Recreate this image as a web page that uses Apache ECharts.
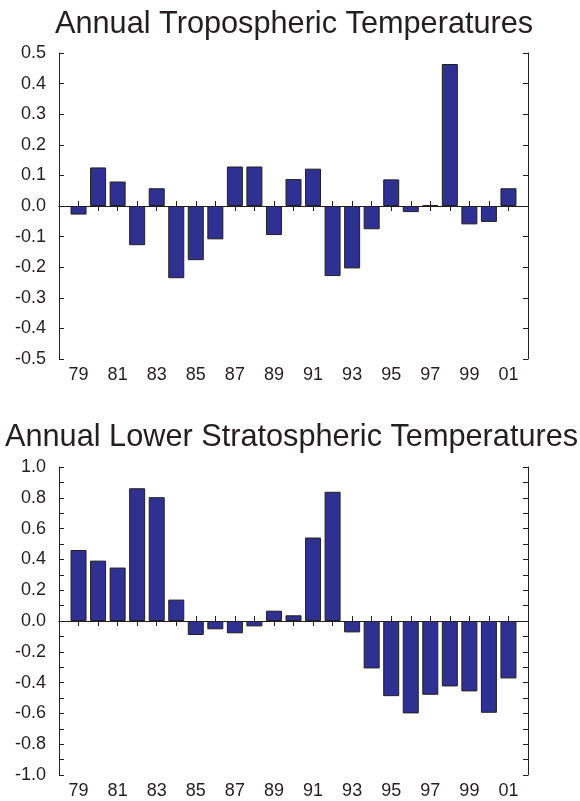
<!DOCTYPE html>
<html>
<head>
<meta charset="utf-8">
<script src="https://cdn.jsdelivr.net/npm/echarts@6/dist/echarts.min.js"></script>
<style>
html,body{margin:0;padding:0;background:#fff;}
#chart{width:580px;height:801px;}
</style>
</head>
<body>
<div id="chart"></div>
<script>
const years = [1979,1980,1981,1982,1983,1984,1985,1986,1987,1988,1989,1990,1991,1992,1993,1994,1995,1996,1997,1998,1999,2000,2001];
const tropo = [-0.028,0.126,0.080,-0.128,0.058,-0.236,-0.177,-0.109,0.129,0.129,-0.095,0.088,0.122,-0.229,-0.204,-0.076,0.087,-0.020,0.003,0.464,-0.060,-0.052,0.058];
const strato = [0.461,0.392,0.347,0.862,0.804,0.139,-0.091,-0.054,-0.080,-0.035,0.067,0.037,0.542,0.839,-0.074,-0.308,-0.488,-0.600,-0.479,-0.425,-0.457,-0.596,-0.373];
const titles = ['Annual Tropospheric Temperatures','Annual Lower Stratospheric Temperatures'];
const yearLabels = ['79','81','83','85','87','89','91','93','95','97','99','01'];

const INK = '#231F20';
const FONT = '"Liberation Sans", Arial, sans-serif';
const chart = echarts.init(document.getElementById('chart'), null, {renderer:'canvas'});

function xFmt(v){
  const s = String(v).slice(2);
  return yearLabels.indexOf(s) >= 0 && v > 1978 && v < 2002 ? s : '';
}
function xAxes(gi){
  const base = {type:'value', gridIndex:gi, min:1978, max:2002, interval:1,
    axisLine:{show:true, lineStyle:{color:INK, width:1}},
    axisTick:{show:true, inside:true, length:5, lineStyle:{color:INK, width:1}},
    splitLine:{show:false}};
  return [
    Object.assign({}, base, {position:'bottom',
      axisLabel:{show:true, formatter:xFmt, margin:7, color:INK, fontSize:18, fontFamily:FONT}}),
    Object.assign({}, base, {position:'top', axisLabel:{show:false}})
  ];
}
function yAxes(gi, min, max, interval, minor){
  const base = {type:'value', gridIndex:gi, min:min, max:max, interval:interval,
    axisLine:{show:true, lineStyle:{color:INK, width:1}},
    axisTick:{show:true, inside:true, length:5, lineStyle:{color:INK, width:1}},
    minorTick:{show:minor, splitNumber:2, length:5, lineStyle:{color:INK, width:1}},
    splitLine:{show:false}};
  return [
    Object.assign({}, base, {position:'left',
      axisLabel:{show:true, formatter:v=>v.toFixed(1), margin:13, color:INK, fontSize:18, fontFamily:FONT}}),
    Object.assign({}, base, {position:'right', axisLabel:{show:false}})
  ];
}
function barSeries(gi, vals){
  return {type:'bar', xAxisIndex:gi*2, yAxisIndex:gi*2, barWidth:16,
    data: years.map((y,i)=>[y, vals[i]]),
    itemStyle:{color:'#2E3192', borderColor:INK, borderWidth:1},
    silent:true,
    markLine:{silent:true, symbol:'none', label:{show:false},
      lineStyle:{color:INK, width:1, type:'solid'}, data:[{yAxis:0}]}
  };
}

chart.setOption({
  animation:false,
  backgroundColor:'#fff',
  title:[
    {text:titles[0], left:55, top:9, textStyle:{fontFamily:FONT, fontSize:30.7, fontWeight:'normal', color:INK}, padding:0},
    {text:titles[1], left:5, top:422, textStyle:{fontFamily:FONT, fontSize:30.7, fontWeight:'normal', color:INK}, padding:0}
  ],
  grid:[
    {left:59, top:53, width:469, height:306, containLabel:false},
    {left:59, top:467, width:469, height:308, containLabel:false}
  ],
  xAxis:[...xAxes(0), ...xAxes(1)],
  yAxis:[...yAxes(0,-0.5,0.5,0.1,false), ...yAxes(1,-1.0,1.0,0.2,true)],
  series:[barSeries(0, tropo), barSeries(1, strato)]
});
</script>
</body>
</html>
